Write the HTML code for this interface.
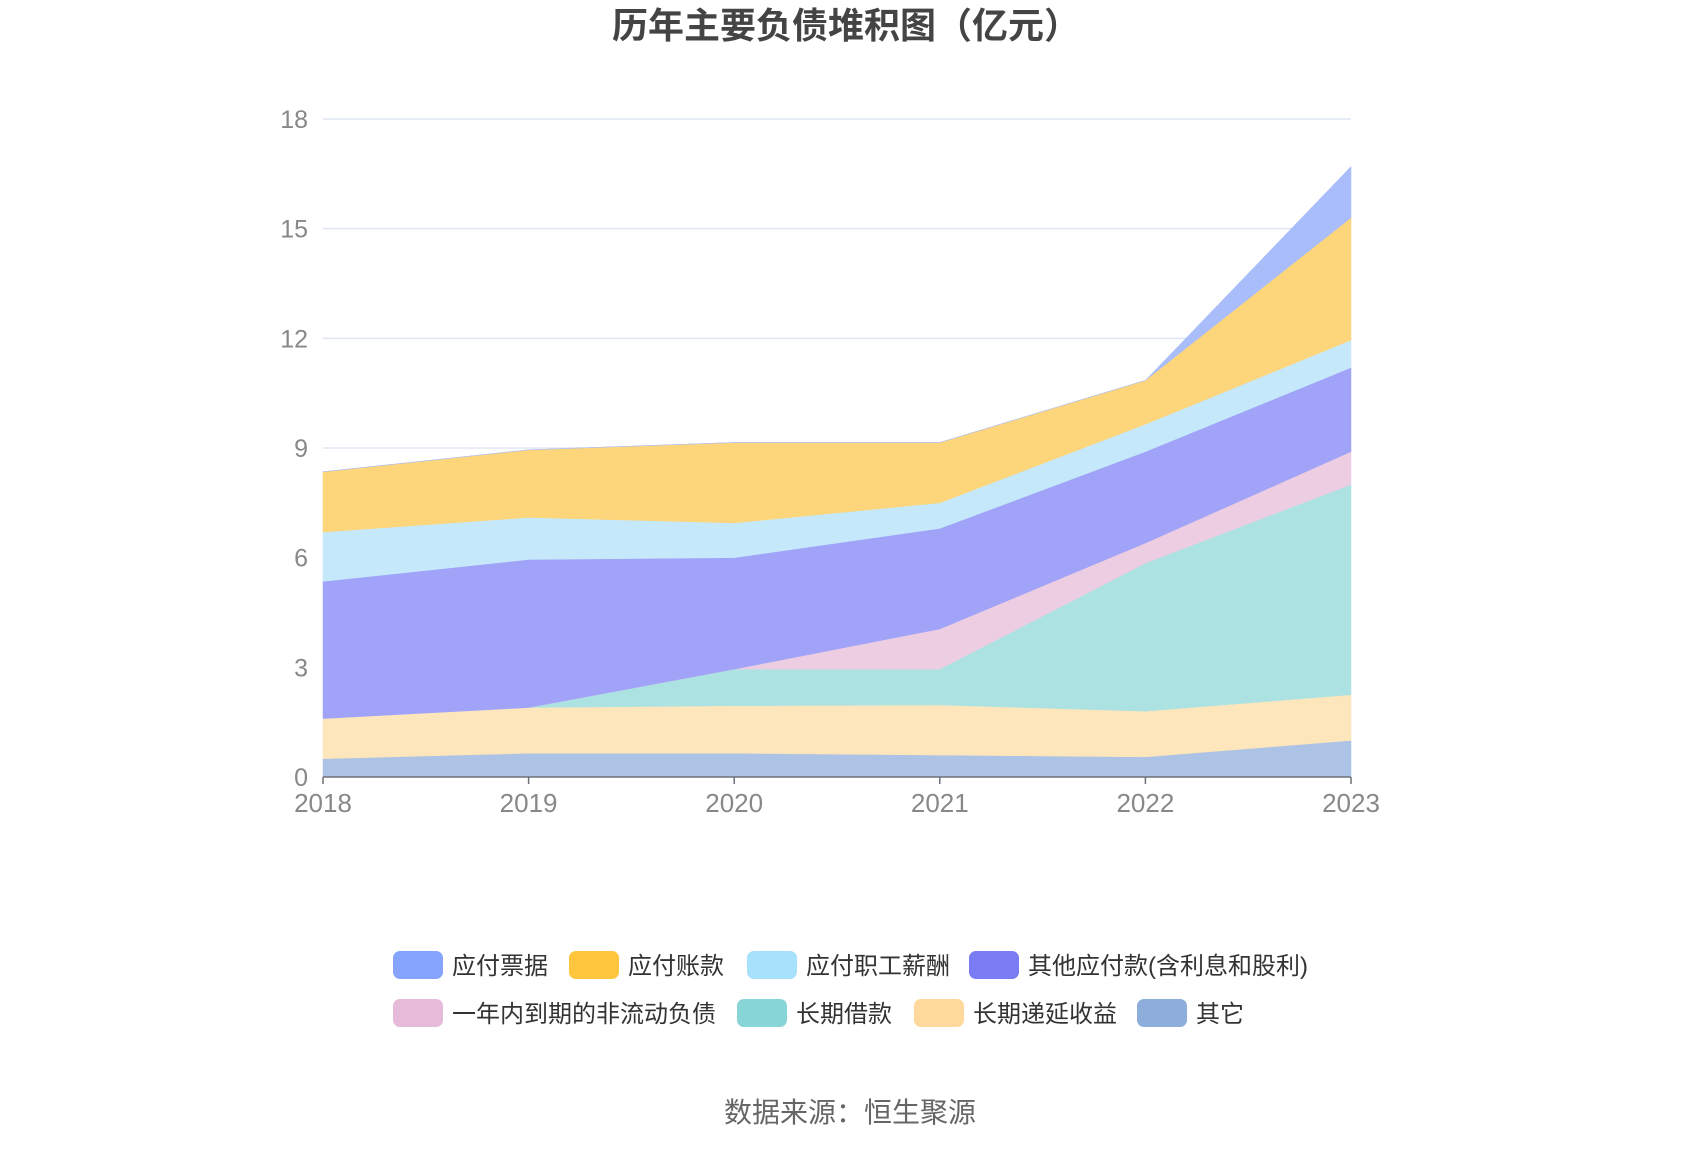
<!DOCTYPE html>
<html><head><meta charset="utf-8"><style>
body{margin:0;background:#fff;}
svg text{font-family:"Liberation Sans","Noto Sans CJK SC",sans-serif;}
</style></head><body>
<svg id="chart" width="1700" height="1150" viewBox="0 0 1700 1150">
<text x="846" y="38" text-anchor="middle" font-size="36" font-weight="bold" fill="#444">历年主要负债堆积图（亿元）</text>
<g id="grid"></g><g id="areas"></g><g id="axes"></g><g id="legend"></g>
<text x="850" y="1122" text-anchor="middle" font-size="28" fill="#666">数据来源：恒生聚源</text>
</svg>
<script>
const years=["2018","2019","2020","2021","2022","2023"];
const yTicks=[0,3,6,9,12,15,18];
const seriesNames=["应付票据","应付账款","应付职工薪酬","其他应付款(含利息和股利)","一年内到期的非流动负债","长期借款","长期递延收益","其它"];
const notesPayable=[0,0,0,0,0,1.4];
const accountsPayable=[1.65,1.85,2.2,1.65,1.2,3.35];
const payroll=[1.35,1.15,0.95,0.7,0.75,0.75];
const otherPayables=[3.75,4.05,3.05,2.75,2.5,2.3];
const currentNonCurrent=[0,0,0,1.1,0.55,0.9];
const longTermLoans=[0,0,1.0,0.98,4.05,5.75];
const deferredIncome=[1.1,1.25,1.3,1.37,1.25,1.25];
const others=[0.5,0.65,0.65,0.6,0.55,1.0];
const areaColors=["#a9bdfb","#fdd57a","#c5e9fb","#a0a3f7","#eccde2","#ace3e2","#fde5bc","#adc3e5"];
const legendColors=["#86a4fe","#ffc53d","#a8e1fb","#7a7cf4","#e6bbd9","#88d5d8","#fed99b","#8daedb"];
const NS="http://www.w3.org/2000/svg";
const X0=323,X1=1351,Y0=777,Y1=119,YMAX=18;
const xs=i=>X0+(X1-X0)*i/(years.length-1);
const ys=v=>Y0-(Y0-Y1)*v/YMAX;
function mk(t,a,p){const e=document.createElementNS(NS,t);for(const k in a)e.setAttribute(k,a[k]);p.appendChild(e);return e;}
const grid=document.getElementById('grid'),areas=document.getElementById('areas'),axes=document.getElementById('axes'),leg=document.getElementById('legend');
yTicks.forEach(t=>{
 if(t>0){const l=mk('line',{x1:X0,x2:X1,y1:ys(t),y2:ys(t),stroke:'#dfe5f3','stroke-width':1.5},grid);
 
 }
 const tx=mk('text',{x:308,y:ys(t)+9,'text-anchor':'end','font-size':25,fill:'#888'},axes);tx.textContent=t;
 
 
});
const stackOrder=[others,deferredIncome,longTermLoans,currentNonCurrent,otherPayables,payroll,accountsPayable,notesPayable];
const colorIdx=[7,6,5,4,3,2,1,0];
let base=years.map(()=>0);
const paths=[];
stackOrder.forEach((s,k)=>{
 const top=base.map((b,i)=>b+s[i]);
 let d='M'+top.map((v,i)=>xs(i)+','+ys(v)).join(' L');
 for(let i=years.length-1;i>=0;i--)d+=' L'+xs(i)+','+ys(base[i]);
 d+='Z';
 paths.push({d,c:areaColors[colorIdx[k]],n:seriesNames[colorIdx[k]]});
 base=top;
});
paths.forEach(p=>{const e=mk('path',{d:p.d,fill:p.c,stroke:p.c,'stroke-width':0.5},areas);
 
 });
mk('line',{x1:X0,x2:X1,y1:Y0,y2:Y0,stroke:'#6e7079','stroke-width':1.5},axes);
years.forEach((y,i)=>{
 mk('line',{x1:xs(i),x2:xs(i),y1:Y0,y2:Y0+7,stroke:'#6e7079','stroke-width':1.5},axes);
 const t=mk('text',{x:xs(i),y:812,'text-anchor':'middle','font-size':26,fill:'#888'},axes);t.textContent=y;
 
 
});
const legPos=[[393,965],[569,965],[747,965],[969,965],[393,1013],[737,1013],[914,1013],[1137,1013]];
seriesNames.forEach((n,i)=>{
 const g=mk('g',{},leg);
 
 
 mk('rect',{x:legPos[i][0],y:legPos[i][1]-14,width:50,height:28,rx:7,fill:legendColors[i]},g);
 const t=mk('text',{x:legPos[i][0]+59,y:legPos[i][1]+9,'font-size':24,fill:'#333'},g);t.textContent=n;
});
</script>
</body></html>
